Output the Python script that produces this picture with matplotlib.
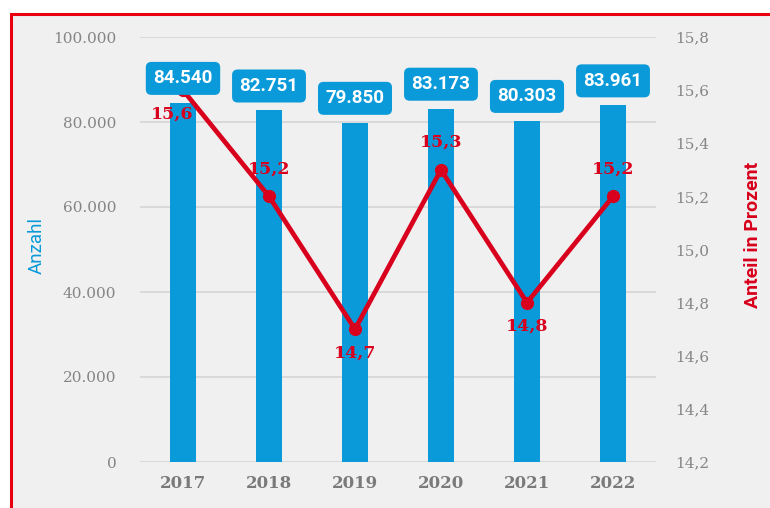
import matplotlib.pyplot as plt
from matplotlib.patches import Rectangle

# Daten
jahre = ['2017', '2018', '2019', '2020', '2021', '2022']
anzahl = [84540, 82751, 79850, 83173, 80303, 83961]
anteil = [15.6, 15.2, 14.7, 15.3, 14.8, 15.2]
links_ticks = [0, 20000, 40000, 60000, 80000, 100000]
rechts_ticks = [14.2, 14.4, 14.6, 14.8, 15.0, 15.2, 15.4, 15.6, 15.8]

blau = '#0a9ad9'
rot = '#d8001c'
grau = '#858585'
hintergrund = '#f0f0f0'


def de_zahl(v):
    return f'{v:,.0f}'.replace(',', '.')


def de_komma(v):
    return f'{v:.1f}'.replace('.', ',')


fig = plt.figure(figsize=(7.7, 5.08), dpi=100)
fig.patch.set_facecolor('white')

# roter Rahmen mit grauem Hintergrund (unter den Achsen)
rahmen = Rectangle((11 / 770, -0.05), 1.0, 1 - 14 / 508 + 0.05,
                   transform=fig.transFigure, facecolor=hintergrund,
                   edgecolor='#e8000f', linewidth=2.2, zorder=-10)
fig.patches.append(rahmen)

ax = fig.add_axes([140 / 770, 46 / 508, 516 / 770, 425 / 508])
ax.set_facecolor('none')
x = list(range(len(jahre)))

ax.bar(x, anzahl, width=0.31, color=blau, zorder=2)
ax.set_xlim(-0.5, 5.5)
ax.set_ylim(0, 100000)
ax.set_yticks(links_ticks)
ax.set_yticklabels([de_zahl(v) for v in links_ticks],
                   family='DejaVu Serif', color=grau, fontsize=11)
ax.set_xticks(x)
ax.set_xticklabels(jahre, fontsize=12, fontweight='bold', color='#7a7a7a',
                   family='DejaVu Serif')
ax.tick_params(axis='y', length=0, pad=17)
ax.tick_params(axis='x', length=0, pad=9)
ax.grid(axis='y', color='#d2d2d2', linewidth=1.1, zorder=0)
for s in ax.spines.values():
    s.set_visible(False)
ax.set_ylabel('Anzahl', color=blau, fontsize=13.5, family='Roboto', labelpad=5)
ax.yaxis.label.set_y(0.51)

# zweite Achse
ax2 = ax.twinx()
ax2.set_ylim(14.2, 15.8)
ax2.set_yticks(rechts_ticks)
ax2.set_yticklabels([de_komma(v) for v in rechts_ticks],
                    family='DejaVu Serif', color=grau, fontsize=11)
ax2.tick_params(axis='y', length=0, pad=14)
for s in ax2.spines.values():
    s.set_visible(False)
ax2.plot(x, anteil, color=rot, linewidth=3.4, marker='o', markersize=8.5,
         solid_joinstyle='miter', zorder=3)
ax2.set_ylabel('Anteil in Prozent', color=rot, fontsize=14, fontweight='bold',
               family='Roboto', labelpad=25)
ax2.yaxis.label.set_y(0.535)

# Prozent-Beschriftungen
versatz = [(-8, -17), (0, 20), (0, -17), (0, 20), (0, -17), (0, 20)]
for i, (v, (dx, dy)) in enumerate(zip(anteil, versatz)):
    ax2.annotate(de_komma(v), xy=(i, v), xytext=(dx, dy),
                 textcoords='offset points', ha='center', va='center',
                 color=rot, fontsize=12.5, fontweight='bold',
                 family='DejaVu Serif', zorder=5)

# Anzahl-Boxen über den Balken
for i, v in enumerate(anzahl):
    ax2.annotate(de_zahl(v), xy=(i, v), xycoords=ax.transData,
                 xytext=(0, 17.5), textcoords='offset points',
                 ha='center', va='center', color='white', fontsize=13.5,
                 fontweight='bold', family='Roboto', zorder=6,
                 bbox=dict(boxstyle='round,pad=0.4,rounding_size=0.3',
                           facecolor=blau, edgecolor='none'))

fig.savefig('out.png', dpi=100, facecolor=fig.get_facecolor())
